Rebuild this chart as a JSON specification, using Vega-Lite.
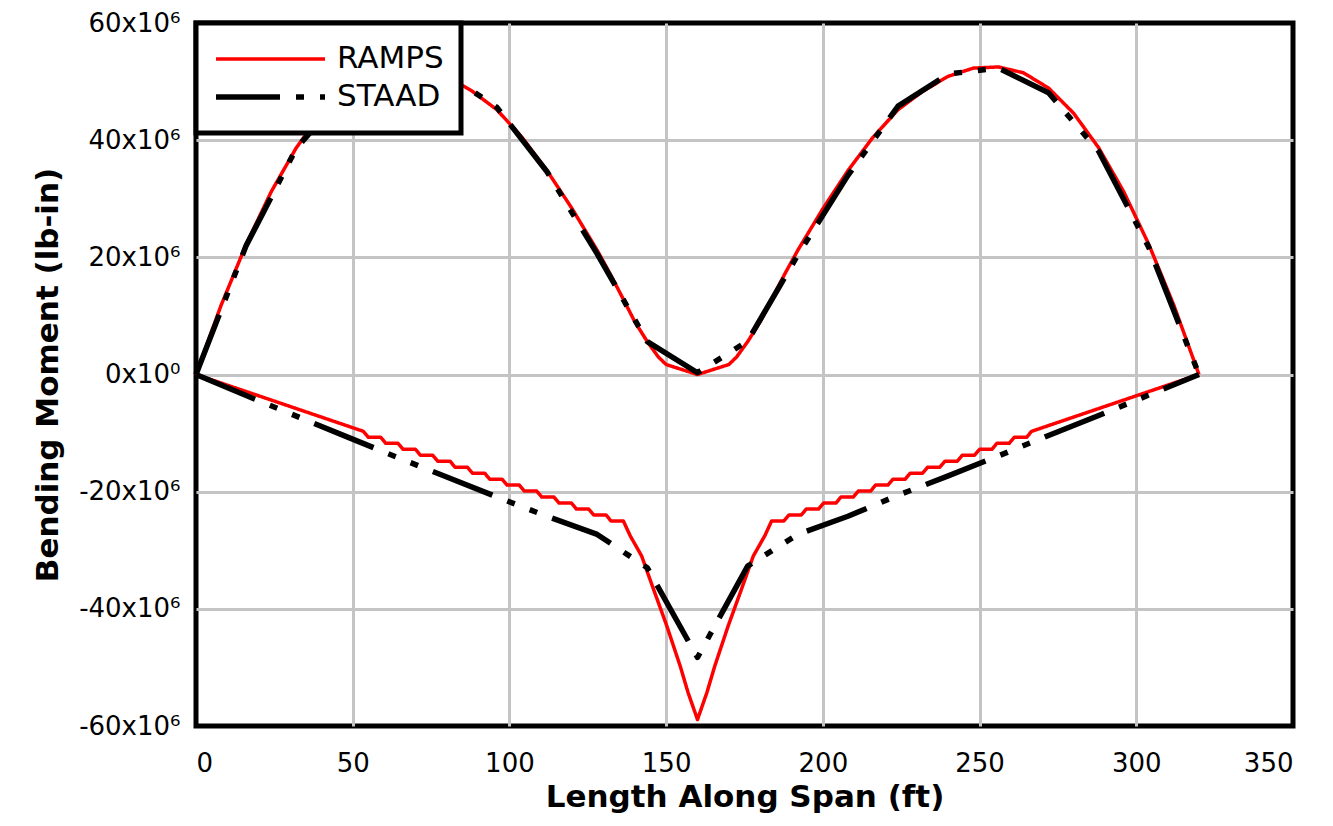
{
  "$schema": "https://vega.github.io/schema/vega-lite/v6.json",
  "width": 1097,
  "height": 703,
  "autosize": "none",
  "padding": {"left": 196, "top": 23, "right": 40, "bottom": 100},
  "background": "white",
  "data": {
    "values": [
      {"s":"RAMPS","b":"pos","x":0,"m":0},{"s":"RAMPS","b":"pos","x":8,"m":11.8},{"s":"RAMPS","b":"pos","x":16,"m":22.2},{"s":"RAMPS","b":"pos","x":24,"m":31.2},{"s":"RAMPS","b":"pos","x":32,"m":38.7},{"s":"RAMPS","b":"pos","x":40,"m":44.6},{"s":"RAMPS","b":"pos","x":48,"m":48.9},{"s":"RAMPS","b":"pos","x":56,"m":51.5},{"s":"RAMPS","b":"pos","x":64,"m":52.5},{"s":"RAMPS","b":"pos","x":72,"m":52.3},{"s":"RAMPS","b":"pos","x":80,"m":50.9},{"s":"RAMPS","b":"pos","x":88,"m":48.4},{"s":"RAMPS","b":"pos","x":96,"m":45.2},{"s":"RAMPS","b":"pos","x":104,"m":40.5},{"s":"RAMPS","b":"pos","x":112,"m":34.8},{"s":"RAMPS","b":"pos","x":120,"m":28.3},{"s":"RAMPS","b":"pos","x":128,"m":21.2},{"s":"RAMPS","b":"pos","x":132,"m":17.3},{"s":"RAMPS","b":"pos","x":136,"m":13.2},{"s":"RAMPS","b":"pos","x":140,"m":9.0},{"s":"RAMPS","b":"pos","x":144,"m":5.6},{"s":"RAMPS","b":"pos","x":147.5,"m":3.0},{"s":"RAMPS","b":"pos","x":150,"m":1.7},{"s":"RAMPS","b":"pos","x":160,"m":0},{"s":"RAMPS","b":"pos","x":170,"m":1.7},{"s":"RAMPS","b":"pos","x":172.5,"m":3.0},{"s":"RAMPS","b":"pos","x":176,"m":5.6},{"s":"RAMPS","b":"pos","x":180,"m":9.0},{"s":"RAMPS","b":"pos","x":184,"m":13.2},{"s":"RAMPS","b":"pos","x":188,"m":17.3},{"s":"RAMPS","b":"pos","x":192,"m":21.2},{"s":"RAMPS","b":"pos","x":200,"m":28.3},{"s":"RAMPS","b":"pos","x":208,"m":34.8},{"s":"RAMPS","b":"pos","x":216,"m":40.5},{"s":"RAMPS","b":"pos","x":224,"m":45.2},{"s":"RAMPS","b":"pos","x":232,"m":48.4},{"s":"RAMPS","b":"pos","x":240,"m":50.9},{"s":"RAMPS","b":"pos","x":248,"m":52.3},{"s":"RAMPS","b":"pos","x":256,"m":52.5},{"s":"RAMPS","b":"pos","x":264,"m":51.5},{"s":"RAMPS","b":"pos","x":272,"m":48.9},{"s":"RAMPS","b":"pos","x":280,"m":44.6},{"s":"RAMPS","b":"pos","x":288,"m":38.7},{"s":"RAMPS","b":"pos","x":296,"m":31.2},{"s":"RAMPS","b":"pos","x":304,"m":22.2},{"s":"RAMPS","b":"pos","x":312,"m":11.8},{"s":"RAMPS","b":"pos","x":320,"m":0},
      {"s":"RAMPS","b":"neg","x":0,"m":0},{"s":"RAMPS","b":"neg","x":53.4,"m":-9.7},{"s":"RAMPS","b":"neg","x":55.0,"m":-10.72},{"s":"RAMPS","b":"neg","x":58.93,"m":-10.72},{"s":"RAMPS","b":"neg","x":60.53,"m":-11.74},{"s":"RAMPS","b":"neg","x":64.46,"m":-11.74},{"s":"RAMPS","b":"neg","x":66.06,"m":-12.76},{"s":"RAMPS","b":"neg","x":69.99,"m":-12.76},{"s":"RAMPS","b":"neg","x":71.59,"m":-13.78},{"s":"RAMPS","b":"neg","x":75.52,"m":-13.78},{"s":"RAMPS","b":"neg","x":77.12,"m":-14.8},{"s":"RAMPS","b":"neg","x":81.05,"m":-14.8},{"s":"RAMPS","b":"neg","x":82.65,"m":-15.82},{"s":"RAMPS","b":"neg","x":86.58,"m":-15.82},{"s":"RAMPS","b":"neg","x":88.18,"m":-16.84},{"s":"RAMPS","b":"neg","x":92.11,"m":-16.84},{"s":"RAMPS","b":"neg","x":93.71,"m":-17.86},{"s":"RAMPS","b":"neg","x":97.64,"m":-17.86},{"s":"RAMPS","b":"neg","x":99.24,"m":-18.88},{"s":"RAMPS","b":"neg","x":103.17,"m":-18.88},{"s":"RAMPS","b":"neg","x":104.77,"m":-19.9},{"s":"RAMPS","b":"neg","x":108.7,"m":-19.9},{"s":"RAMPS","b":"neg","x":110.3,"m":-20.92},{"s":"RAMPS","b":"neg","x":114.23,"m":-20.92},{"s":"RAMPS","b":"neg","x":115.83,"m":-21.94},{"s":"RAMPS","b":"neg","x":119.76,"m":-21.94},{"s":"RAMPS","b":"neg","x":121.36,"m":-22.96},{"s":"RAMPS","b":"neg","x":125.29,"m":-22.96},{"s":"RAMPS","b":"neg","x":126.89,"m":-23.98},{"s":"RAMPS","b":"neg","x":130.82,"m":-23.98},{"s":"RAMPS","b":"neg","x":132.42,"m":-25.0},{"s":"RAMPS","b":"neg","x":136.35,"m":-25.0},{"s":"RAMPS","b":"neg","x":138.5,"m":-27.5},{"s":"RAMPS","b":"neg","x":142.2,"m":-31.0},{"s":"RAMPS","b":"neg","x":146.0,"m":-36.7},{"s":"RAMPS","b":"neg","x":150.2,"m":-42.9},{"s":"RAMPS","b":"neg","x":154.5,"m":-49.8},{"s":"RAMPS","b":"neg","x":157.0,"m":-54.3},{"s":"RAMPS","b":"neg","x":160,"m":-58.9},{"s":"RAMPS","b":"neg","x":163.0,"m":-54.3},{"s":"RAMPS","b":"neg","x":165.5,"m":-49.8},{"s":"RAMPS","b":"neg","x":169.8,"m":-42.9},{"s":"RAMPS","b":"neg","x":174.0,"m":-36.7},{"s":"RAMPS","b":"neg","x":177.8,"m":-31.0},{"s":"RAMPS","b":"neg","x":181.5,"m":-27.5},{"s":"RAMPS","b":"neg","x":183.65,"m":-25.0},{"s":"RAMPS","b":"neg","x":187.58,"m":-25.0},{"s":"RAMPS","b":"neg","x":189.18,"m":-23.98},{"s":"RAMPS","b":"neg","x":193.11,"m":-23.98},{"s":"RAMPS","b":"neg","x":194.71,"m":-22.96},{"s":"RAMPS","b":"neg","x":198.64,"m":-22.96},{"s":"RAMPS","b":"neg","x":200.24,"m":-21.94},{"s":"RAMPS","b":"neg","x":204.17,"m":-21.94},{"s":"RAMPS","b":"neg","x":205.77,"m":-20.92},{"s":"RAMPS","b":"neg","x":209.7,"m":-20.92},{"s":"RAMPS","b":"neg","x":211.3,"m":-19.9},{"s":"RAMPS","b":"neg","x":215.23,"m":-19.9},{"s":"RAMPS","b":"neg","x":216.83,"m":-18.88},{"s":"RAMPS","b":"neg","x":220.76,"m":-18.88},{"s":"RAMPS","b":"neg","x":222.36,"m":-17.86},{"s":"RAMPS","b":"neg","x":226.29,"m":-17.86},{"s":"RAMPS","b":"neg","x":227.89,"m":-16.84},{"s":"RAMPS","b":"neg","x":231.82,"m":-16.84},{"s":"RAMPS","b":"neg","x":233.42,"m":-15.82},{"s":"RAMPS","b":"neg","x":237.35,"m":-15.82},{"s":"RAMPS","b":"neg","x":238.95,"m":-14.8},{"s":"RAMPS","b":"neg","x":242.88,"m":-14.8},{"s":"RAMPS","b":"neg","x":244.48,"m":-13.78},{"s":"RAMPS","b":"neg","x":248.41,"m":-13.78},{"s":"RAMPS","b":"neg","x":250.01,"m":-12.76},{"s":"RAMPS","b":"neg","x":253.94,"m":-12.76},{"s":"RAMPS","b":"neg","x":255.54,"m":-11.74},{"s":"RAMPS","b":"neg","x":259.47,"m":-11.74},{"s":"RAMPS","b":"neg","x":261.07,"m":-10.72},{"s":"RAMPS","b":"neg","x":265.0,"m":-10.72},{"s":"RAMPS","b":"neg","x":266.6,"m":-9.7},{"s":"RAMPS","b":"neg","x":320,"m":0},
      {"s":"STAAD","b":"pos","x":0,"m":0},{"s":"STAAD","b":"pos","x":16,"m":22.0},{"s":"STAAD","b":"pos","x":32,"m":38.6},{"s":"STAAD","b":"pos","x":48,"m":48.4},{"s":"STAAD","b":"pos","x":64,"m":52.4},{"s":"STAAD","b":"pos","x":80,"m":51.3},{"s":"STAAD","b":"pos","x":96,"m":45.6},{"s":"STAAD","b":"pos","x":112,"m":34.6},{"s":"STAAD","b":"pos","x":128,"m":20.6},{"s":"STAAD","b":"pos","x":144,"m":5.6},{"s":"STAAD","b":"pos","x":160,"m":0.3},{"s":"STAAD","b":"pos","x":176,"m":5.7},{"s":"STAAD","b":"pos","x":192,"m":20.4},{"s":"STAAD","b":"pos","x":208,"m":34.0},{"s":"STAAD","b":"pos","x":224,"m":45.8},{"s":"STAAD","b":"pos","x":240,"m":51.3},{"s":"STAAD","b":"pos","x":256,"m":52.3},{"s":"STAAD","b":"pos","x":272,"m":48.1},{"s":"STAAD","b":"pos","x":288,"m":38.1},{"s":"STAAD","b":"pos","x":304,"m":21.7},{"s":"STAAD","b":"pos","x":320,"m":0},
      {"s":"STAAD","b":"neg","x":0,"m":0},{"s":"STAAD","b":"neg","x":16,"m":-3.6},{"s":"STAAD","b":"neg","x":32,"m":-7.1},{"s":"STAAD","b":"neg","x":48,"m":-10.6},{"s":"STAAD","b":"neg","x":64,"m":-14.1},{"s":"STAAD","b":"neg","x":80,"m":-17.5},{"s":"STAAD","b":"neg","x":96,"m":-20.9},{"s":"STAAD","b":"neg","x":112,"m":-24.2},{"s":"STAAD","b":"neg","x":128,"m":-27.3},{"s":"STAAD","b":"neg","x":144,"m":-33.0},{"s":"STAAD","b":"neg","x":160,"m":-48.3},{"s":"STAAD","b":"neg","x":176,"m":-32.7},{"s":"STAAD","b":"neg","x":192,"m":-27.3},{"s":"STAAD","b":"neg","x":208,"m":-24.2},{"s":"STAAD","b":"neg","x":224,"m":-20.6},{"s":"STAAD","b":"neg","x":240,"m":-17.3},{"s":"STAAD","b":"neg","x":256,"m":-13.9},{"s":"STAAD","b":"neg","x":272,"m":-10.4},{"s":"STAAD","b":"neg","x":288,"m":-7.0},{"s":"STAAD","b":"neg","x":304,"m":-3.5},{"s":"STAAD","b":"neg","x":320,"m":0}
    ]
  },
  "mark": {"type": "line", "strokeJoin": "round", "clip": false},
  "encoding": {
    "x": {
      "field": "x", "type": "quantitative",
      "scale": {"domain": [0, 350], "nice": false, "zero": false},
      "axis": {
        "values": [0, 50, 100, 150, 200, 250, 300, 350],
        "title": "Length Along Span (ft)",
        "labelPadding": 24,
        "titlePadding": 6,
        "gridColor": {"condition": {"test": "datum.value == 0 || datum.value == 350", "value": "transparent"}, "value": "#c4c4c4"}
      }
    },
    "y": {
      "field": "m", "type": "quantitative",
      "scale": {"domain": [-60, 60], "nice": false},
      "axis": {
        "values": [-60, -40, -20, 0, 20, 40, 60],
        "title": "Bending Moment (lb-in)",
        "labelExpr": "datum.value == 0 ? '0x10⁰' : datum.value + 'x10⁶'",
        "labelPadding": 16,
        "titlePadding": 14,
        "gridColor": {"condition": {"test": "datum.value == -60 || datum.value == 60", "value": "transparent"}, "value": "#c4c4c4"}
      }
    },
    "detail": {"field": "b"},
    "color": {
      "field": "s", "type": "nominal",
      "scale": {"domain": ["RAMPS", "STAAD"], "range": ["#ff0000", "#000000"]},
      "legend": {"title": null}
    },
    "strokeDash": {
      "field": "s", "type": "nominal",
      "scale": {"domain": ["RAMPS", "STAAD"], "range": [[1, 0], [64, 16, 8, 16, 8, 16]]},
      "legend": {"title": null}
    },
    "strokeWidth": {
      "field": "s", "type": "nominal",
      "scale": {"domain": ["RAMPS", "STAAD"], "range": [3.5, 5.5]},
      "legend": {"title": null}
    }
  },
  "config": {
    "view": {"stroke": "black", "strokeWidth": 5},
    "axis": {
      "grid": true, "gridWidth": 3, "domain": false, "ticks": false,
      "labelFont": "DejaVu Sans", "labelFontSize": 26, "labelColor": "black",
      "titleFont": "DejaVu Sans", "titleFontSize": 31, "titleFontWeight": "bold", "titleColor": "black"
    },
    "legend": {
      "orient": "top-left", "offset": 0, "padding": 17,
      "strokeColor": "black", "strokeWidth": 5, "fillColor": "white",
      "labelFont": "DejaVu Sans", "labelFontSize": 31, "labelColor": "black",
      "symbolType": "stroke", "symbolSize": 11881, "labelOffset": 9,
      "clipHeight": 38, "rowPadding": 0
    }
  }
}
